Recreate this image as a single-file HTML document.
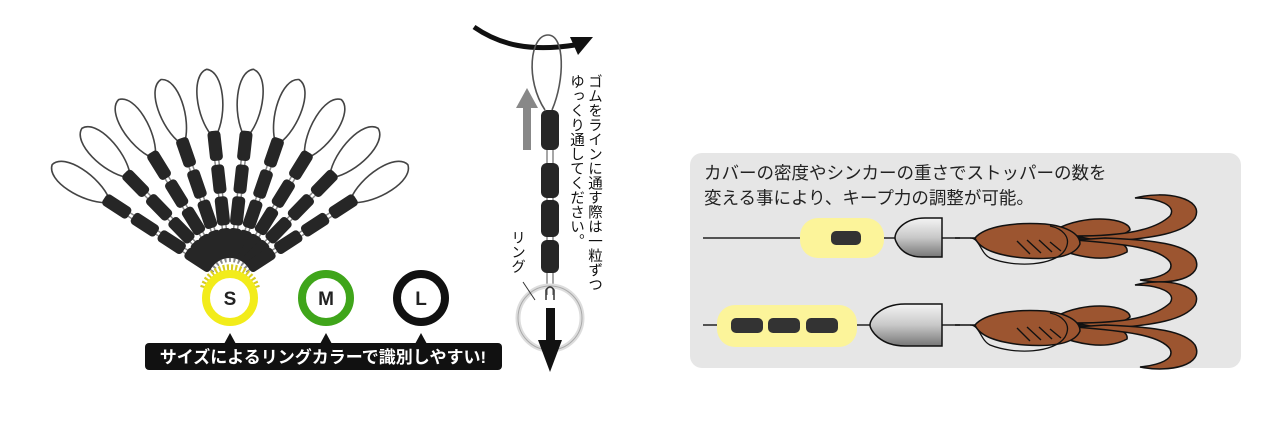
<!DOCTYPE html>
<html><head><meta charset="utf-8"><style>
html,body{margin:0;padding:0;background:#fff;width:1266px;height:446px;overflow:hidden}
svg{display:block}
text{font-family:"Liberation Sans","Noto Sans CJK JP",sans-serif}
</style></head><body>
<svg width="1266" height="446" viewBox="0 0 1266 446" xmlns="http://www.w3.org/2000/svg">
<defs>
<g id="ray">
  <path d="M-2,-145 C-16,-165 -17,-208 0,-212 C17,-208 16,-165 2,-145" fill="none" stroke="#444" stroke-width="1.6"/>
  <line x1="-2" y1="-145" x2="-2" y2="-18" stroke="#888" stroke-width="1.5"/>
  <line x1="2" y1="-145" x2="2" y2="-18" stroke="#888" stroke-width="1.5"/>
  <rect x="-6.5" y="-150" width="13" height="30" rx="4" fill="#262626"/>
  <rect x="-6.5" y="-116" width="13" height="29" rx="4" fill="#262626"/>
  <rect x="-6.5" y="-84" width="13" height="29" rx="4" fill="#262626"/>
  <rect x="-6.5" y="-52" width="13" height="30" rx="4" fill="#262626"/>
</g>
<linearGradient id="sink" x1="0" y1="0" x2="0" y2="1">
  <stop offset="0" stop-color="#f4f4f4"/><stop offset="0.5" stop-color="#c8c8c8"/><stop offset="1" stop-color="#777"/>
</linearGradient>
<g id="lure">
  <path d="M100,-8 C130,-25 175,-20 175,-8 C160,5 120,2 100,-2Z" fill="#9c5530" stroke="#111" stroke-width="1.5"/>
  <path d="M100,4 C130,-4 175,0 172,14 C150,26 120,18 100,10Z" fill="#9c5530" stroke="#111" stroke-width="1.5"/>
  <path d="M120,-2 C170,-2 200,-8 215,-22 C222,-32 205,-40 180,-40 C210,-48 250,-40 240,-20 C230,-5 200,0 150,4Z" fill="#9c5530" stroke="#111" stroke-width="1.5"/>
  <path d="M120,2 C170,6 205,10 215,24 C220,34 205,40 185,42 C215,48 250,40 240,20 C230,6 200,2 150,0Z" fill="#9c5530" stroke="#111" stroke-width="1.5"/>
  <path d="M20,0 C30,-12 60,-16 90,-14 C110,-12 125,-5 125,6 C120,18 100,22 70,20 C45,18 25,12 20,0Z" fill="#9c5530" stroke="#111" stroke-width="1.5"/>
  <path d="M62,3 L75,16 M72,2 L86,15 M84,2 L97,14 M95,4 L106,13" stroke="#111" stroke-width="1.4"/>
  <path d="M15,0 C25,0 25,15 35,20 C60,30 100,28 110,12 C118,-2 105,-10 95,-12" fill="none" stroke="#111" stroke-width="1.3"/>
  <line x1="0" y1="0" x2="20" y2="0" stroke="#111" stroke-width="1.5"/>
</g>
</defs>

<g transform="translate(230,280)">
  <use href="#ray" transform="rotate(-57)"/>
  <use href="#ray" transform="rotate(-44.3)"/>
  <use href="#ray" transform="rotate(-31.7)"/>
  <use href="#ray" transform="rotate(-19)"/>
  <use href="#ray" transform="rotate(-6.3)"/>
  <use href="#ray" transform="rotate(6.3)"/>
  <use href="#ray" transform="rotate(19)"/>
  <use href="#ray" transform="rotate(31.7)"/>
  <use href="#ray" transform="rotate(44.3)"/>
  <use href="#ray" transform="rotate(57)"/>
  <path d="M-26,8 A27,27 0 0 1 26,8" fill="none" stroke="#d8cc20" stroke-width="8" stroke-dasharray="2 2"/>
</g>
<circle cx="230" cy="298" r="24" fill="#fff" stroke="#f2ec1a" stroke-width="8"/>
<text x="230" y="305" font-size="19" font-weight="bold" text-anchor="middle" fill="#222">S</text>
<circle cx="326" cy="298" r="24" fill="#fff" stroke="#3fa51a" stroke-width="8"/>
<text x="326" y="305" font-size="19" font-weight="bold" text-anchor="middle" fill="#222">M</text>
<circle cx="421" cy="298" r="24" fill="#fff" stroke="#111" stroke-width="8"/>
<text x="421" y="305" font-size="19" font-weight="bold" text-anchor="middle" fill="#222">L</text>
<rect x="145" y="343" width="357" height="27" rx="4" fill="#111"/>
<path d="M224,344 L230,333 L236,344Z M320,344 L326,333 L332,344Z M415,344 L421,333 L427,344Z" fill="#111"/>
<text x="323" y="363" font-size="17" font-weight="bold" text-anchor="middle" fill="#fff">サイズによるリングカラーで識別しやすい!</text>

<path d="M474,27 C500,45 530,52 575,45" fill="none" stroke="#111" stroke-width="5"/>
<path d="M570,37 L593,37 L578,55Z" fill="#111"/>
<path d="M545,110 C525,80 530,35 548,35 C565,35 565,80 552,110" fill="none" stroke="#555" stroke-width="1.6"/>
<line x1="547" y1="110" x2="547" y2="295" stroke="#888" stroke-width="1.5"/>
<line x1="553" y1="110" x2="553" y2="295" stroke="#888" stroke-width="1.5"/>
<rect x="541" y="110" width="18" height="40" rx="6" fill="#262626"/>
<rect x="541" y="163" width="18" height="35" rx="6" fill="#262626"/>
<rect x="541" y="200" width="18" height="37" rx="6" fill="#262626"/>
<rect x="541" y="240" width="18" height="33" rx="6" fill="#262626"/>
<circle cx="550" cy="318" r="32" fill="none" stroke="#ddd" stroke-width="5"/>
<circle cx="550" cy="318" r="32" fill="none" stroke="#aaa" stroke-width="1"/>
<path d="M546,300 L546,290 Q550,284 554,290 L554,300" fill="none" stroke="#333" stroke-width="1.5"/>
<rect x="546" y="308" width="9" height="35" fill="#111"/>
<path d="M538,340 L562,340 L550,372Z" fill="#111"/>
<rect x="523" y="105" width="8" height="45" fill="#888"/>
<path d="M516,108 L538,108 L527,88Z" fill="#888"/>
<path d="M523,282 L535,300" stroke="#333" stroke-width="1"/>
<text font-size="14.5" fill="#111" style="writing-mode:vertical-rl" x="594" y="74">ゴムをラインに通す際は一粒ずつ</text>
<text font-size="14.5" fill="#111" style="writing-mode:vertical-rl" x="576" y="74">ゆっくり通してください。</text>
<text font-size="14.5" fill="#111" style="writing-mode:vertical-rl" x="517" y="230">リング</text>

<rect x="690" y="153" width="551" height="215" rx="12" fill="#e6e6e6"/>
<text x="704" y="179" font-size="17.5" fill="#222">カバーの密度やシンカーの重さでストッパーの数を</text>
<text x="704" y="204" font-size="17.5" fill="#222">変える事により、キープ力の調整が可能。</text>
<line x1="703" y1="238" x2="960" y2="238" stroke="#222" stroke-width="1.5"/>
<rect x="800" y="218" width="84" height="40" rx="18" fill="#fcf49a"/>
<rect x="831" y="231" width="30" height="14" rx="5" fill="#333"/>
<path d="M942,218 L942,257 L922,257 C900,257 895,240 895,238 C895,230 905,218 925,218Z" fill="url(#sink)" stroke="#111" stroke-width="1.5"/>
<use href="#lure" x="955" y="238"/>
<line x1="703" y1="325" x2="960" y2="325" stroke="#222" stroke-width="1.5"/>
<rect x="717" y="305" width="140" height="42" rx="18" fill="#fcf49a"/>
<rect x="731" y="318" width="32" height="15" rx="5" fill="#333"/>
<rect x="768" y="318" width="32" height="15" rx="5" fill="#333"/>
<rect x="806" y="318" width="32" height="15" rx="5" fill="#333"/>
<path d="M942,304 L942,346 L905,346 C880,346 870,330 870,325 C870,318 882,304 905,304Z" fill="url(#sink)" stroke="#111" stroke-width="1.5"/>
<use href="#lure" x="955" y="325"/>
</svg>
</body></html>
